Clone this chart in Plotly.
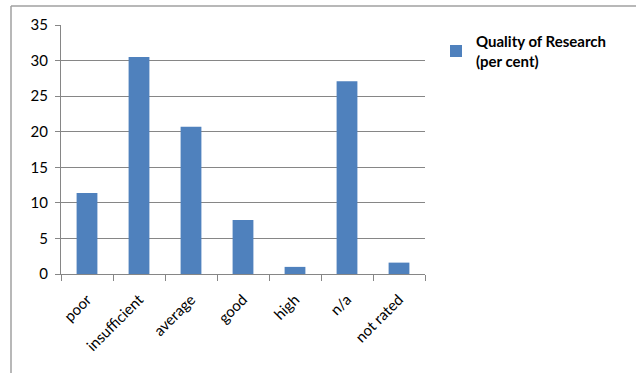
import plotly.graph_objects as go

# Quality of research ratings, share of units in each rating band
categories = ["poor", "insufficient", "average", "good", "high", "n/a", "not rated"]
values = [11.4, 30.5, 20.7, 7.6, 1.0, 27.1, 1.6]
y_ticks = [0, 5, 10, 15, 20, 25, 30, 35]

W, H = 636, 373
L, R, T, B = 61, 211, 25, 99
pw, ph = W - L - R, H - T - B


def px_x(x):
    return (x - L) / pw


def px_y(y):
    return (H - B - y) / ph


fig = go.Figure()
fig.add_trace(go.Bar(
    x=categories,
    y=values,
    name="Quality of Research<br>(per cent)",
    marker=dict(color="#4F81BD", line=dict(width=0)),
    showlegend=True,
))

grid = "#868686"
fig.update_layout(
    width=W,
    height=H,
    margin=dict(l=L, r=R, t=T, b=B, pad=0),
    paper_bgcolor="white",
    plot_bgcolor="white",
    bargap=0.6,
    font=dict(family="Lato, Carlito, Calibri, sans-serif", size=15, color="#000000"),
    xaxis=dict(
        type="category",
        tickangle=-45,
        ticks="outside",
        ticklen=6,
        tickcolor=grid,
        tickson="boundaries",
        showline=True,
        linecolor=grid,
        linewidth=1,
        showgrid=False,
        tickfont=dict(size=15),
        ticklabelstandoff=10,
    ),
    yaxis=dict(
        range=[0, 35],
        tickvals=y_ticks,
        ticks="outside",
        ticklen=5,
        tickcolor=grid,
        showline=True,
        linecolor=grid,
        linewidth=1,
        showgrid=True,
        gridcolor=grid,
        gridwidth=1,
        zeroline=False,
        tickfont=dict(size=15),
        ticklabelstandoff=4,
    ),
    legend=dict(
        x=px_x(436),
        y=px_y(25),
        xanchor="left",
        yanchor="top",
        font=dict(size=15, color="#000000", weight="bold"),
        bgcolor="rgba(0,0,0,0)",
        itemwidth=30,
    ),
    shapes=[
        # chart frame: left and top edges
        dict(type="line", xref="paper", yref="paper",
             x0=px_x(11), x1=px_x(11), y0=px_y(6), y1=px_y(H + 5),
             line=dict(color="#A0A0A0", width=1.5)),
        dict(type="line", xref="paper", yref="paper",
             x0=px_x(11), x1=px_x(W + 5), y0=px_y(6), y1=px_y(6),
             line=dict(color="#A0A0A0", width=1.5)),
    ],
)

fig.write_html("out.html")
